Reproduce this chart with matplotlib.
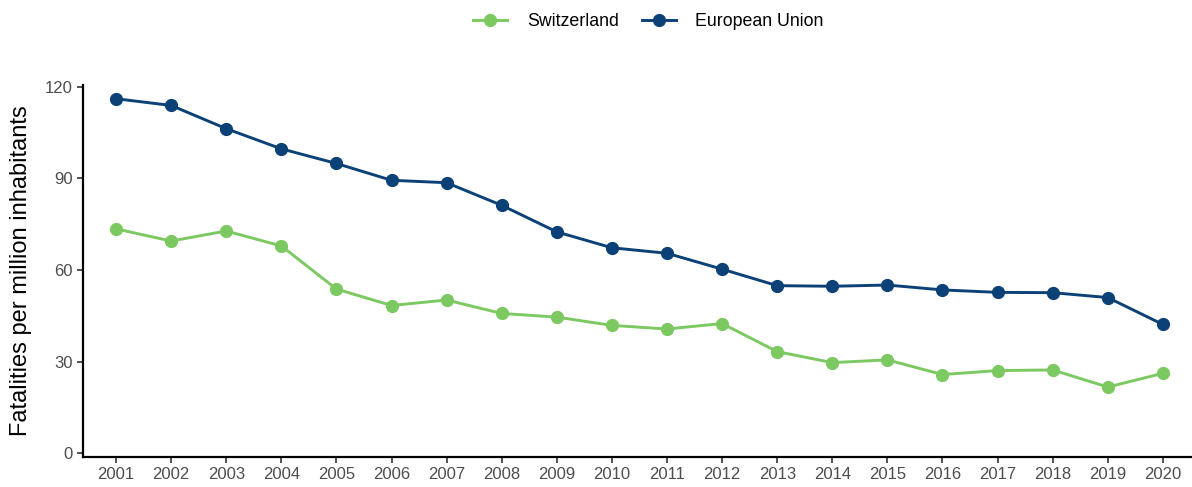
import matplotlib.pyplot as plt
import numpy as np

years = np.arange(2001, 2021)

switzerland = [73.5, 69.5, 72.8, 67.9, 53.8, 48.4, 50.2, 45.8, 44.6, 41.9,
               40.7, 42.5, 33.3, 29.7, 30.6, 25.8, 27.1, 27.3, 21.7, 26.2]
european_union = [116.1, 113.9, 106.3, 99.7, 94.9, 89.4, 88.6, 81.2, 72.5, 67.3,
                  65.5, 60.3, 54.9, 54.7, 55.1, 53.5, 52.7, 52.6, 51.0, 42.2]

plt.rcParams['font.family'] = ['Liberation Sans', 'DejaVu Sans']

fig = plt.figure(figsize=(11.92, 4.87), dpi=100)
ax = fig.add_axes([0.0696, 0.0616, 0.9300, 0.7639])

ax.plot(years, switzerland, color='#7cc962', lw=2.1, marker='o', ms=8.5,
        label='Switzerland')
ax.plot(years, european_union, color='#0b4177', lw=2.1, marker='o', ms=8.5,
        label='European Union')

ax.set_xlim(2000.4, 2020.52)
ax.set_ylim(-1.2, 120.6)
ax.set_xticks(years)
ax.set_yticks([0, 30, 60, 90, 120])
ax.tick_params(axis='both', colors='#333333', labelcolor='#4d4d4d',
               labelsize=12, length=4, width=1.2)
ax.set_ylabel('Fatalities per million inhabitants', fontsize=17, color='black',
              labelpad=9)

for side in ['top', 'right']:
    ax.spines[side].set_visible(False)
for side in ['left', 'bottom']:
    ax.spines[side].set_linewidth(1.6)
    ax.spines[side].set_color('black')

fig.legend(loc='center', bbox_to_anchor=(0.544, 0.956), ncol=2, frameon=False,
           fontsize=12.8, handlelength=1.9, columnspacing=1.3, handletextpad=1.1)

fig.savefig('out.png', dpi=100)
